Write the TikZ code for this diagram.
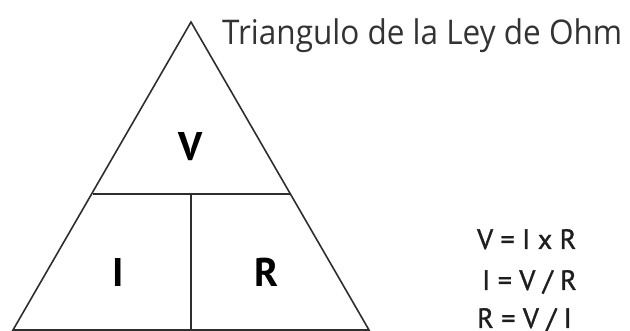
\documentclass[tikz,border=0pt]{standalone}
\usepackage{fontspec}
\usepackage{graphicx}
\setmainfont{PT Sans}
\newfontfamily\titlefont{Open Sans}
\newfontfamily\eqfont[FakeBold=1.2]{PT Sans}
\definecolor{linegray}{HTML}{2E2E2E}
\definecolor{titlegray}{HTML}{333333}
\definecolor{eqblack}{HTML}{1E1E1E}
\begin{document}
\begin{tikzpicture}[x=1pt,y=-1pt,
  edge/.style={draw=linegray,line width=1.6pt,line join=miter},
  letter/.style={font=\fontsize{40}{40}\selectfont\bfseries,text=black,inner sep=0pt,anchor=base},
  eqline/.style={font=\eqfont\fontsize{28}{28}\selectfont,text=eqblack,inner sep=0pt,text depth=0pt,anchor=base west},
  titletext/.style={font=\titlefont\fontsize{34}{34}\selectfont,text=titlegray,inner sep=0pt,anchor=base west}]
\useasboundingbox (0,0) rectangle (630,331);
% triangle
\coordinate (apex) at (191,22);
\coordinate (bl) at (13,330);
\coordinate (br) at (369,330);
\coordinate (ml) at (92.5,194);
\coordinate (mr) at (289.5,194);
\coordinate (mm) at (191,194);
\coordinate (bm) at (191,330);
\draw[edge] (apex) -- (br) -- (bl) -- cycle;
\draw[edge] (ml) -- (mr);
\draw[edge] (mm) -- (bm);
% letters
\node[letter] (V) at (191,161) {V};
\node[letter] (I) at (118,287) {I};
\node[letter] (R) at (267,287) {R};
% title
\node[titletext] (title) at (222,45) {\resizebox{400pt}{\height}{Triangulo de la Ley de Ohm}};
% equations
\node[eqline] (e1) at (477,249) {V = I x R};
\node[eqline] (e2) at (482,290) {I = V / R};
\node[eqline] (e3) at (477,328) {R = V / I};
\end{tikzpicture}
\end{document}
